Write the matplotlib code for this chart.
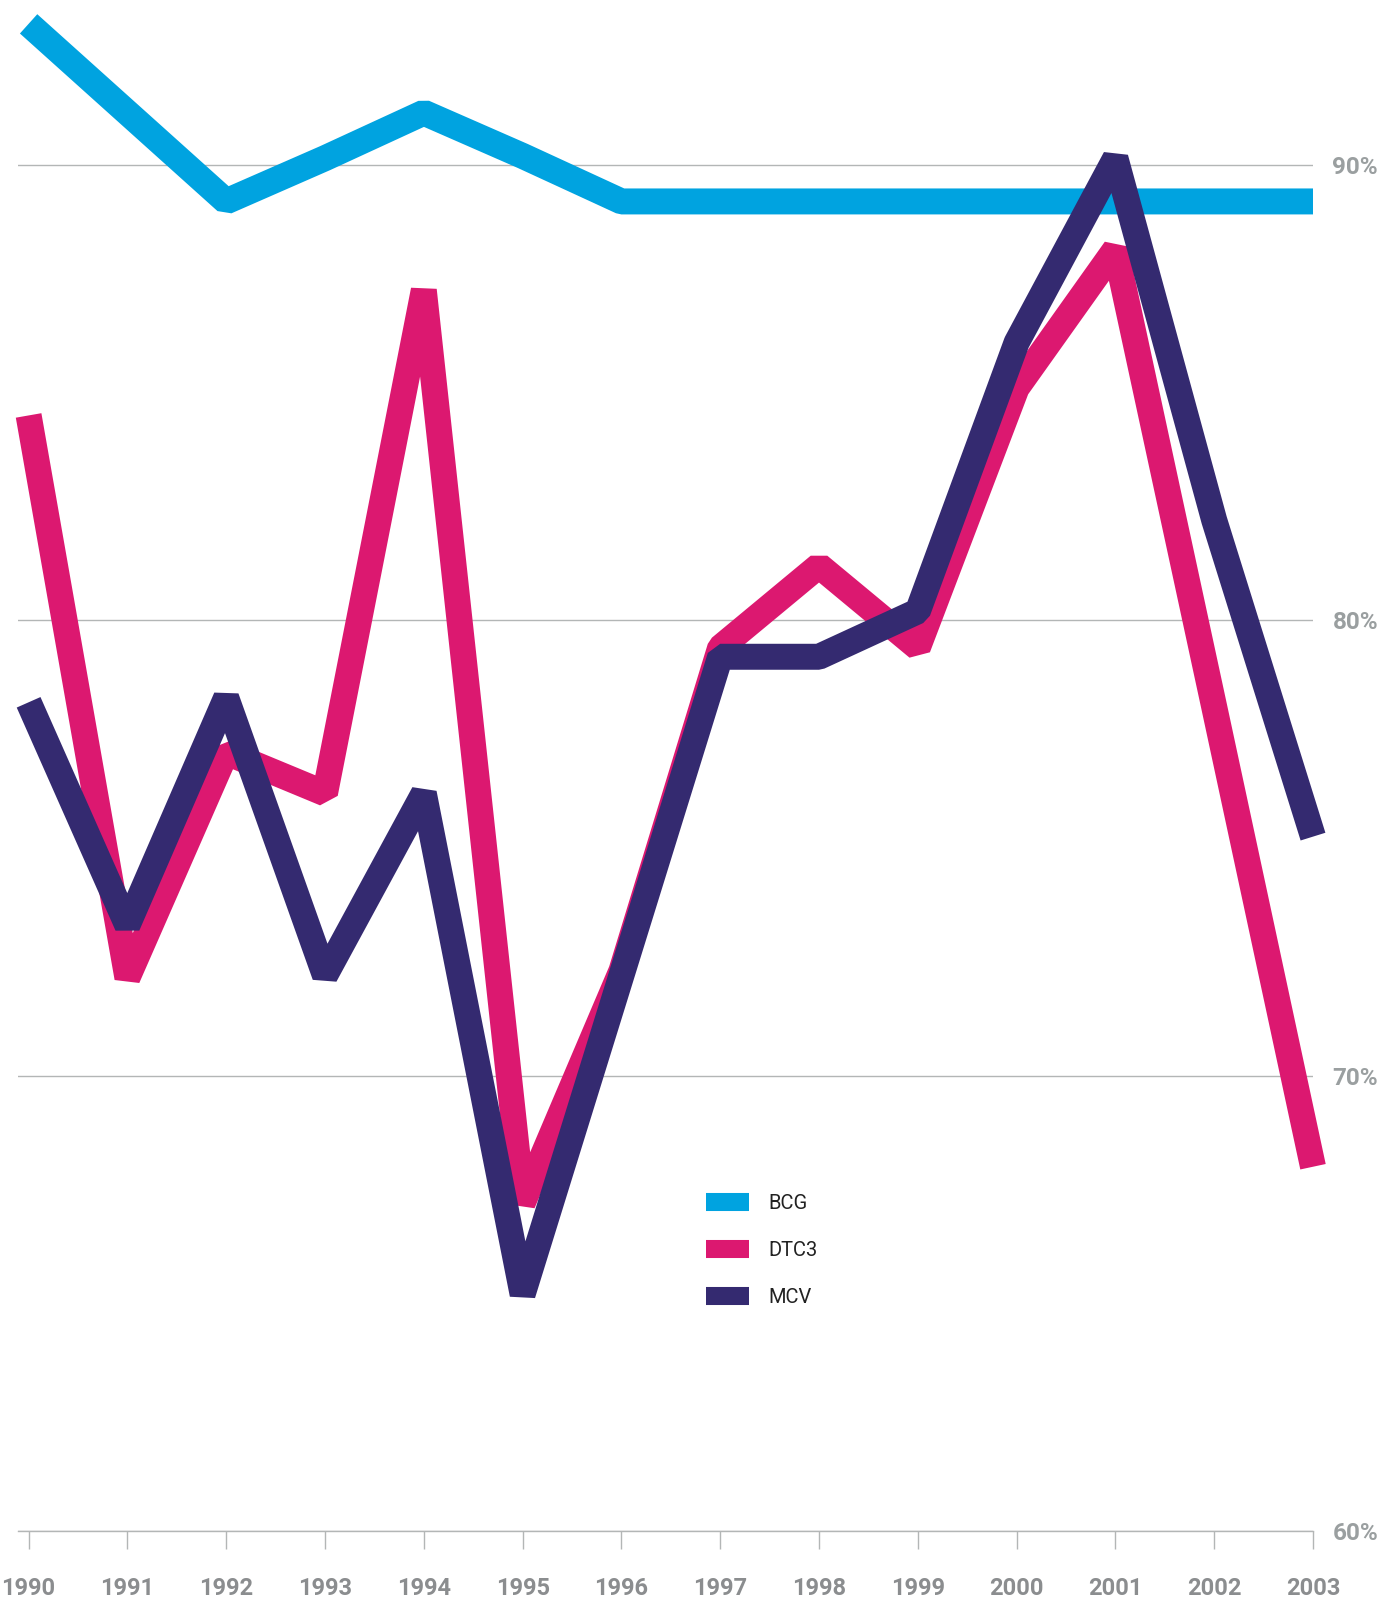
import matplotlib
matplotlib.use("Agg")
import matplotlib.pyplot as plt
from matplotlib.lines import Line2D

# coverage rates (%)
years = [1990, 1991, 1992, 1993, 1994, 1995, 1996, 1997, 1998, 1999, 2000, 2001, 2002, 2003]
bcg = [93.1, 91.15, 89.2, 90.15, 91.15, 90.2, 89.2, 89.2, 89.2, 89.2, 89.2, 89.2, 89.2, 89.2]
dtc3 = [84.5, 72.15, 77.1, 76.2, 87.25, 67.2, 72.3, 79.4, 81.2, 79.4, 85.1, 88.15, 78.1, 68.0]
mcv = [78.2, 73.3, 78.3, 72.2, 76.2, 65.2, 72.2, 79.2, 79.2, 80.2, 86.1, 90.15, 82.2, 75.25]

series_names = ["BCG", "DTC3", "MCV"]
series_colors = ["#00a3e0", "#dc1870", "#342a70"]
y_ticks = [60, 70, 80, 90]
y_labels = ["60%", "70%", "80%", "90%"]

W, H = 1397, 1603
fig = plt.figure(figsize=(W / 100, H / 100), dpi=100)
fig.patch.set_facecolor("white")

left, right = 18.4 / W, 1313 / W
bottom = (H - 1531) / H
ax = fig.add_axes([left, bottom, right - left, 1 - bottom])
ax.set_xlim(1990 - (28.6 - 18.4) / 98.8, 2003)
ax.set_ylim(60, 90 + 165 / 45.53)

grid_col = "#b3b6b6"
ax.set_yticks(y_ticks)
ax.set_yticklabels(y_labels)
ax.yaxis.tick_right()
ax.grid(axis="y", color=grid_col, lw=1.0)
ax.set_axisbelow(True)
ax.tick_params(axis="y", length=0, pad=14, labelsize=17.5, labelcolor="#9a9fa0")
for lab in ax.get_yticklabels():
    lab.set_fontfamily("Roboto")
    lab.set_fontweight("bold")

ax.set_xticks(years)
ax.set_xticklabels([str(y) for y in years])
ax.tick_params(axis="x", direction="out", length=13, width=1, color=grid_col,
               pad=20, labelsize=17, labelcolor="#8b8d8f")
for lab in ax.get_xticklabels():
    lab.set_fontfamily("Roboto")
    lab.set_fontweight("bold")

for s in ["top", "left", "right"]:
    ax.spines[s].set_visible(False)
ax.spines["bottom"].set_color(grid_col)
ax.spines["bottom"].set_linewidth(1.0)

lw = 18.7
for vals, name, col in zip([bcg, dtc3, mcv], series_names, series_colors):
    ax.plot(years, vals, color=col, lw=lw, solid_joinstyle="bevel",
            solid_capstyle="butt", clip_on=False, label=name)

handles = [Line2D([0], [0], color=c, lw=13, solid_capstyle="butt") for c in series_colors]
leg = ax.legend(handles, series_names, loc="upper left",
                bbox_to_anchor=(706 / W, 1 - 1194 / H), bbox_transform=fig.transFigure,
                frameon=False, borderpad=0, borderaxespad=0,
                handlelength=2.14, handletextpad=0.94, labelspacing=1.4,
                prop={"family": "Roboto", "size": 14.5})
for t in leg.get_texts():
    t.set_color("#222222")

fig.savefig("out.png", dpi=100, facecolor="white")
